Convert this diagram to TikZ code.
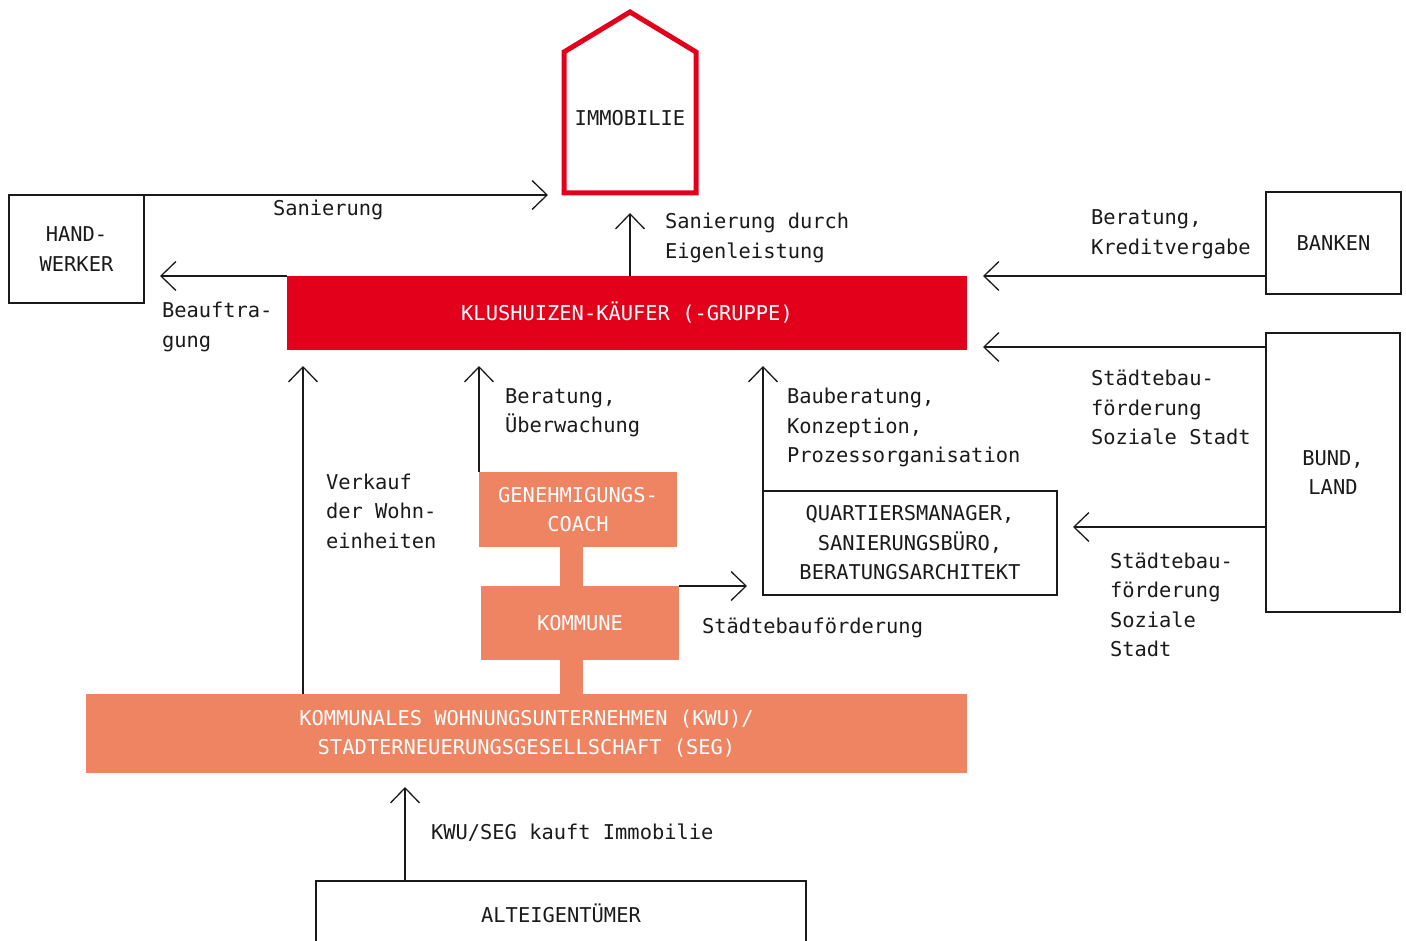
\documentclass[tikz,border=0pt]{standalone}
\usepackage{fontspec}
\usetikzlibrary{arrows.meta}
\newfontfamily\dmono{DejaVu Sans Mono}
\definecolor{kred}{HTML}{E2001A}
\definecolor{korange}{HTML}{EE8461}
\definecolor{ink}{HTML}{1A1A1A}
\tikzset{
  every node/.style={font=\dmono\fontsize{20.4}{29.5}\selectfont, text=ink, inner sep=0pt, outer sep=0pt},
  box/.style={draw=ink, line width=1.3pt, align=center},
  redbox/.style={fill=kred, text=white, align=center},
  orbox/.style={fill=korange, text=white, align=center},
  lbl/.style={anchor=west, align=left},
  conn/.style={draw=ink, line width=1.3pt, -{Straight Barb[length=15pt, width=29pt, line width=1.3pt]}},
  bar/.style={draw=korange, line width=23pt}
}
\begin{document}
\begin{tikzpicture}[x=1pt, y=-1pt]
  \useasboundingbox (0,0) rectangle (1406,941);

  % house
  \draw[kred, line width=5pt, line join=miter]
    (564,193) -- (564,52) -- (630,12) -- (696,52) -- (696,193) -- cycle;
  \node (imm) at (630,118) {IMMOBILIE};
  \coordinate (houseL) at (548,195);
  \coordinate (houseB) at (630,213);

  % boxes
  \node[box, minimum width=135pt, minimum height=108pt] (hw) at (76.5,249) {HAND-\\WERKER};
  \node[redbox, minimum width=680pt, minimum height=74pt] (kk) at (627,313) {KLUSHUIZEN-KÄUFER (-GRUPPE)};
  \node[box, minimum width=135pt, minimum height=102pt] (bk) at (1333.5,243) {BANKEN};
  \node[box, minimum width=134pt, minimum height=279pt] (bd) at (1333,472.5) {BUND,\\LAND};
  \node[box, minimum width=294pt, minimum height=104pt] (qm) at (910,543) {QUARTIERSMANAGER,\\SANIERUNGSBÜRO,\\BERATUNGSARCHITEKT};
  \node[orbox, minimum width=198pt, minimum height=75pt] (gc) at (578,509.5) {GENEHMIGUNGS-\\COACH};
  \node[orbox, minimum width=198pt, minimum height=74pt] (km) at (580,623) {KOMMUNE};
  \node[orbox, minimum width=881pt, minimum height=79pt] (kwu) at (526.5,733.5) {KOMMUNALES WOHNUNGSUNTERNEHMEN (KWU)/\\STADTERNEUERUNGSGESELLSCHAFT (SEG)};
  \node[box, minimum width=490pt, minimum height=64pt] (alt) at (561,913) {ALTEIGENTÜMER};

  % orange links
  \coordinate (barx) at (571.5,0);
  \draw[bar] (gc.south -| barx) -- (km.north -| barx);
  \draw[bar] (km.south -| barx) -- (kwu.north -| barx);

  % arrow tips
  \coordinate (beaTip) at (160,276);
  \coordinate (bkTip) at (983,276);
  \coordinate (bdTip) at (983,347);
  \coordinate (qmTip) at (1073,527);
  \coordinate (upTip) at (0,366);
  \coordinate (vkTip) at (303,366);
  \coordinate (kmTip) at (747,586);
  \coordinate (kwTip) at (405,787);

  % connectors
  \draw[conn] (houseL -| hw.east) -- (houseL);
  \draw[conn] (houseB |- kk.north) -- (houseB);
  \draw[conn] (beaTip -| kk.west) -- (beaTip);
  \draw[conn] (bkTip -| bk.west) -- (bkTip);
  \draw[conn] (bdTip -| bd.west) -- (bdTip);
  \draw[conn] (qmTip -| bd.west) -- (qmTip);
  \draw[conn] (qm.north west) -- (qm.north west |- upTip);
  \draw[conn] (gc.north west) -- (gc.north west |- upTip);
  \draw[conn] (vkTip |- kwu.north) -- (vkTip);
  \draw[conn] (kmTip -| km.east) -- (kmTip);
  \draw[conn] (kwTip |- alt.north) -- (kwTip);

  % labels
  \node[lbl] (l1) at (273,210) {Sanierung};
  \node[lbl] (l2) at (665,238) {Sanierung durch\\Eigenleistung};
  \node[lbl] (l3) at (162,327) {Beauftra-\\gung};
  \node[lbl] (l4) at (1091,234.5) {Beratung,\\Kreditvergabe};
  \node[lbl] (l5) at (1091,407.5) {Städtebau-\\förderung\\Soziale Stadt};
  \node[lbl] (l6) at (1110,605) {Städtebau-\\förderung\\Soziale\\Stadt};
  \node[lbl] (l7) at (787,427.5) {Bauberatung,\\Konzeption,\\Prozessorganisation};
  \node[lbl] (l8) at (505,413) {Beratung,\\Überwachung};
  \node[lbl] (l9) at (326,511) {Verkauf\\der Wohn-\\einheiten};
  \node[lbl] (l10) at (702,628) {Städtebauförderung};
  \node[lbl] (l11) at (431,833) {KWU/SEG kauft Immobilie};
\end{tikzpicture}
\end{document}
